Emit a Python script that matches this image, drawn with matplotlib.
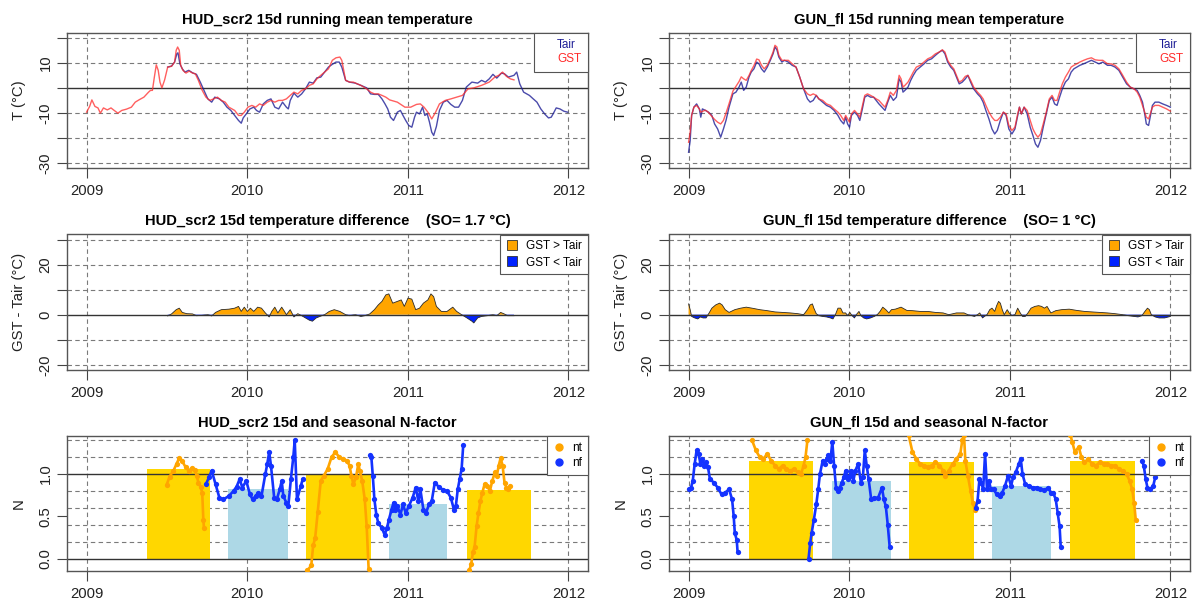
import numpy as np
import matplotlib.pyplot as plt
from matplotlib.lines import Line2D

plt.rcParams['font.family'] = ['Liberation Sans', 'DejaVu Sans']

# ---------------- HUD_scr2: 15d running means (decimal years, degC) ----------------
hud_tair_t = [2009.505, 2009.529, 2009.548, 2009.562, 2009.569, 2009.581, 2009.596, 2009.612, 2009.636, 2009.660,
              2009.684, 2009.708, 2009.731, 2009.755, 2009.779, 2009.798, 2009.827, 2009.851, 2009.874, 2009.898,
              2009.922, 2009.946, 2009.963, 2009.975, 2009.994, 2010.017, 2010.041, 2010.058, 2010.077, 2010.100,
              2010.125, 2010.148, 2010.172, 2010.196, 2010.220, 2010.244, 2010.256, 2010.268, 2010.291, 2010.315,
              2010.339, 2010.363, 2010.387, 2010.411, 2010.434, 2010.458, 2010.482, 2010.506, 2010.530, 2010.553,
              2010.573, 2010.589, 2010.613, 2010.637, 2010.673, 2010.708, 2010.744, 2010.768, 2010.792, 2010.816,
              2010.839, 2010.858, 2010.875, 2010.892, 2010.911, 2010.923, 2010.935, 2010.954, 2010.970, 2010.987,
              2011.006, 2011.025, 2011.042, 2011.054, 2011.073, 2011.092, 2011.106, 2011.121, 2011.135, 2011.149,
              2011.161, 2011.178, 2011.197, 2011.221, 2011.244, 2011.268, 2011.292, 2011.316, 2011.340, 2011.364,
              2011.399, 2011.435, 2011.459, 2011.483, 2011.507, 2011.530, 2011.554, 2011.583, 2011.602, 2011.626,
              2011.661, 2011.678, 2011.697, 2011.721, 2011.757, 2011.781, 2011.804, 2011.828, 2011.852, 2011.876,
              2011.893, 2011.907, 2011.924, 2011.947, 2011.971, 2011.995]
hud_tair = [8.4, 8.8, 10.4, 13.7, 14.1, 9.7, 7.7, 6.4, 7.1, 6.1,
            5.5, 2.4, -0.9, -4.3, -5.6, -3.6, -4.3, -5.6, -7.6, -8.9,
            -10.9, -12.9, -14.0, -11.9, -10.3, -8.3, -7.6, -8.9, -9.6, -6.3,
            -4.9, -4.3, -7.6, -8.3, -5.6, -7.6, -8.3, -4.9, -2.0, -3.6,
            -2.3, -0.3, 2.4, 2.0, 4.1, 4.4, 6.4, 8.4, 9.5, 10.4,
            10.4, 8.4, 3.1, 2.4, 2.0, 1.1, 0.1, -2.3, -2.5, -2.5,
            -4.3, -6.3, -8.3, -11.6, -12.9, -11.3, -9.6, -8.9, -10.9, -12.9,
            -14.9, -15.6, -11.6, -9.6, -10.3, -7.6, -10.9, -10.3, -13.6, -17.6,
            -18.9, -15.3, -8.9, -5.6, -4.9, -6.5, -7.6, -7.6, -4.9, 0.4,
            2.4, 2.0, 3.1, 2.4, 3.7, 5.5, 4.0, 6.0, 5.7, 4.4,
            5.1, 6.4, 1.7, -1.6, -2.9, -4.3, -5.6, -8.3, -10.3, -11.9,
            -11.6, -10.0, -7.9, -8.3, -9.2, -9.6]

hud_gst_t = [2009.000, 2009.019, 2009.033, 2009.052, 2009.071, 2009.086, 2009.105, 2009.129, 2009.152, 2009.172,
             2009.195, 2009.219, 2009.248, 2009.279, 2009.303, 2009.326, 2009.357, 2009.386, 2009.398, 2009.410,
             2009.422, 2009.434, 2009.446, 2009.457, 2009.469, 2009.486, 2009.505, 2009.529, 2009.548, 2009.558,
             2009.567, 2009.577, 2009.586, 2009.600, 2009.619, 2009.639, 2009.660, 2009.677, 2009.696, 2009.720,
             2009.743, 2009.767, 2009.791, 2009.815, 2009.839, 2009.863, 2009.886, 2009.922, 2009.946, 2009.963,
             2009.982, 2010.005, 2010.029, 2010.053, 2010.077, 2010.100, 2010.125, 2010.148, 2010.172, 2010.196,
             2010.220, 2010.244, 2010.268, 2010.291, 2010.315, 2010.339, 2010.363, 2010.387, 2010.411, 2010.434,
             2010.458, 2010.482, 2010.506, 2010.530, 2010.553, 2010.577, 2010.589, 2010.613, 2010.637, 2010.661,
             2010.685, 2010.708, 2010.744, 2010.768, 2010.792, 2010.816, 2010.839, 2010.863, 2010.887, 2010.935,
             2010.982, 2011.018, 2011.054, 2011.078, 2011.101, 2011.125, 2011.149, 2011.173, 2011.197, 2011.233,
             2011.268, 2011.304, 2011.340, 2011.375, 2011.411, 2011.459, 2011.507, 2011.542, 2011.566, 2011.590,
             2011.614, 2011.638, 2011.661]
hud_gst = [-9.6, -7.3, -4.7, -7.3, -7.9, -10.0, -7.9, -8.7, -7.9, -8.9,
           -10.0, -8.9, -8.4, -7.6, -5.6, -4.7, -3.6, -1.6, -0.9, -0.9,
           4.4, 9.3, 7.1, 2.4, 0.1, 3.3, 8.4, 8.7, 10.4, 15.1,
           16.4, 15.1, 9.1, 7.1, 6.0, 6.8, 6.0, 5.7, 3.1, -0.9,
           -3.6, -4.9, -4.3, -3.6, -4.9, -5.6, -7.6, -8.9, -10.9, -10.9,
           -9.6, -7.6, -6.9, -7.6, -6.3, -6.9, -5.6, -4.9, -5.6, -4.9,
           -4.9, -4.3, -2.9, -1.6, -2.3, -0.9, -0.3, 1.1, 1.7, 3.7,
           5.1, 6.4, 7.7, 11.1, 12.1, 12.4, 11.1, 3.1, 2.4, 2.4,
           1.7, 1.1, -0.3, -1.6, -2.3, -2.3, -2.9, -3.6, -4.7, -5.6,
           -7.6, -7.6, -6.5, -6.3, -7.6, -9.6, -12.3, -9.6, -6.3, -4.9,
           -4.3, -3.6, -2.9, -0.3, 0.1, 1.1, 2.4, 4.4, 5.1, 6.4,
           4.7, 3.7, 3.3]

# GST - Tair
hud_diff_t = [2009.505, 2009.529, 2009.558, 2009.577, 2009.596, 2009.624, 2009.660, 2009.684, 2009.715, 2009.755,
              2009.779, 2009.803, 2009.839, 2009.886, 2009.922, 2009.946, 2009.963, 2009.982, 2010.001, 2010.020,
              2010.041, 2010.065, 2010.089, 2010.113, 2010.137, 2010.153, 2010.172, 2010.191, 2010.215, 2010.232,
              2010.244, 2010.268, 2010.291, 2010.315, 2010.339, 2010.363, 2010.387, 2010.406, 2010.430, 2010.453,
              2010.482, 2010.511, 2010.542, 2010.577, 2010.613, 2010.637, 2010.673, 2010.708, 2010.732, 2010.763,
              2010.792, 2010.816, 2010.839, 2010.863, 2010.882, 2010.906, 2010.935, 2010.959, 2010.978, 2011.001,
              2011.025, 2011.049, 2011.073, 2011.097, 2011.125, 2011.144, 2011.161, 2011.178, 2011.209, 2011.244,
              2011.280, 2011.304, 2011.335, 2011.368, 2011.399, 2011.411, 2011.435, 2011.459, 2011.495, 2011.530,
              2011.554, 2011.578, 2011.597, 2011.621, 2011.661]
hud_diff = [-0.5, 0.3, 2.0, 2.6, 0.9, 0.4, 0.3, -0.4, -0.3, 0.0,
            -0.5, 0.9, 2.0, 2.2, 2.6, 3.3, 1.3, 3.0, 1.3, 2.6,
            1.3, 3.0, 2.6, 0.7, -0.9, 1.3, 3.0, 0.7, 3.0, 1.3,
            0.0, 2.0, -0.9, 0.4, -0.4, -1.3, -2.2, -2.6, -1.3, -0.7,
            0.0, 1.3, 2.0, 1.3, 0.0, -0.4, 0.0, -0.7, -0.4, 0.3,
            2.0, 3.9, 5.3, 7.9, 8.3, 4.6, 5.3, 5.9, 3.3, 6.6,
            6.2, 2.0, 2.6, 4.6, 5.9, 8.3, 7.2, 3.3, 1.3, 1.3,
            3.0, 1.3, 0.0, -1.3, -2.6, -3.3, -1.3, -0.7, -0.4, 0.0,
            -0.4, 0.9, 0.4, -0.4, -0.4]

# N-factor: daily values per season, and seasonal bars
hud_nt_t = [[2009.498, 2009.517, 2009.541, 2009.560, 2009.577, 2009.596, 2009.617, 2009.636, 2009.655, 2009.672,
             2009.686, 2009.696, 2009.710, 2009.720, 2009.727, 2009.731],
            [2010.375, 2010.399, 2010.411, 2010.423, 2010.439, 2010.458, 2010.477, 2010.501, 2010.525, 2010.549,
             2010.573, 2010.596, 2010.620, 2010.637, 2010.649, 2010.661, 2010.677, 2010.692, 2010.701, 2010.716,
             2010.732, 2010.744, 2010.756],
            [2011.383, 2011.395, 2011.406, 2011.416, 2011.428, 2011.440, 2011.452, 2011.464, 2011.478, 2011.495,
             2011.511, 2011.526, 2011.542, 2011.554, 2011.566, 2011.578, 2011.590, 2011.602, 2011.614, 2011.626,
             2011.638]]
hud_nt = [[0.87, 0.97, 1.04, 1.12, 1.19, 1.15, 1.08, 1.04, 1.07, 1.05, 0.98, 0.90, 0.85, 0.78, 0.46, 0.36],
          [-0.14, -0.08, 0.16, 0.24, 0.55, 0.92, 0.98, 1.06, 1.20, 1.26, 1.20, 1.18, 1.16, 1.10, 0.98, 0.88,
           0.96, 1.12, 1.04, 0.92, 0.70, 0.38, -0.12],
          [-0.14, -0.06, 0.08, 0.14, 0.38, 0.54, 0.68, 0.78, 0.88, 0.86, 0.80, 0.92, 1.02, 0.98, 1.10, 1.19,
           1.10, 0.90, 0.84, 0.82, 0.86]]
hud_nf_t = [[2009.743, 2009.762, 2009.779, 2009.803, 2009.827, 2009.851, 2009.886, 2009.915, 2009.934, 2009.953,
             2009.970, 2009.994, 2010.017, 2010.034, 2010.053, 2010.070, 2010.089, 2010.113, 2010.125, 2010.137,
             2010.148, 2010.168, 2010.184, 2010.203, 2010.215, 2010.225, 2010.244, 2010.256, 2010.272, 2010.287,
             2010.296, 2010.310, 2010.334, 2010.346],
            [2010.763, 2010.773, 2010.782, 2010.792, 2010.804, 2010.816, 2010.839, 2010.856, 2010.870, 2010.882,
             2010.899, 2010.911, 2010.923, 2010.935, 2010.954, 2010.970, 2010.987, 2011.006, 2011.030, 2011.049,
             2011.066, 2011.078, 2011.097, 2011.113, 2011.132, 2011.149, 2011.168, 2011.192, 2011.221, 2011.244,
             2011.268, 2011.287, 2011.299, 2011.311, 2011.323, 2011.335, 2011.345]]
hud_nf = [[0.88, 0.96, 1.04, 0.88, 0.72, 0.70, 0.74, 0.80, 0.85, 0.94, 0.84, 0.92, 0.76, 0.70, 0.74, 0.78,
           0.74, 1.00, 1.12, 1.26, 1.10, 0.72, 0.70, 0.82, 0.92, 0.74, 0.66, 0.62, 0.94, 1.20, 1.40, 0.70,
           0.86, 0.94],
          [1.22, 1.20, 0.98, 0.70, 0.52, 0.42, 0.36, 0.28, 0.36, 0.46, 0.58, 0.66, 0.58, 0.62, 0.52, 0.64,
           0.54, 0.62, 0.72, 0.84, 0.68, 0.82, 0.58, 0.54, 0.64, 0.68, 0.90, 0.85, 0.81, 0.80, 0.72, 0.58,
           0.62, 0.82, 0.94, 1.06, 1.34]]
hud_season_start = [2009.374, 2009.882, 2010.368, 2010.880, 2011.368]
hud_season_end = [2009.770, 2010.256, 2010.768, 2011.247, 2011.766]
hud_season_n = [1.06, 0.82, 1.00, 0.64, 0.81]

# ---------------- GUN_fl ----------------
gun_t = [2009.000, 2009.010, 2009.019, 2009.033, 2009.050, 2009.067, 2009.076, 2009.086, 2009.105, 2009.124,
         2009.145, 2009.162, 2009.181, 2009.200, 2009.217, 2009.233, 2009.252, 2009.276, 2009.295, 2009.314,
         2009.328, 2009.343, 2009.359, 2009.376, 2009.390, 2009.407, 2009.424, 2009.438, 2009.454, 2009.471,
         2009.490, 2009.509, 2009.526, 2009.538, 2009.550, 2009.562, 2009.581, 2009.597, 2009.621, 2009.645,
         2009.669, 2009.692, 2009.716, 2009.740, 2009.757, 2009.776, 2009.795, 2009.811, 2009.835, 2009.859,
         2009.883, 2009.906, 2009.930, 2009.947, 2009.966, 2009.978, 2009.990, 2010.002, 2010.014, 2010.033,
         2010.052, 2010.066, 2010.080, 2010.097, 2010.114, 2010.133, 2010.152, 2010.168, 2010.185, 2010.204,
         2010.223, 2010.240, 2010.256, 2010.275, 2010.294, 2010.311, 2010.323, 2010.335, 2010.347, 2010.366,
         2010.383, 2010.399, 2010.418, 2010.442, 2010.466, 2010.489, 2010.513, 2010.537, 2010.561, 2010.580,
         2010.596, 2010.613, 2010.632, 2010.651, 2010.668, 2010.685, 2010.704, 2010.723, 2010.739, 2010.756,
         2010.775, 2010.799, 2010.818, 2010.834, 2010.851, 2010.870, 2010.889, 2010.906, 2010.922, 2010.941,
         2010.960, 2010.977, 2010.994, 2011.013, 2011.032, 2011.049, 2011.060, 2011.072, 2011.089, 2011.108,
         2011.127, 2011.144, 2011.160, 2011.175, 2011.191, 2011.208, 2011.227, 2011.246, 2011.263, 2011.279,
         2011.294, 2011.310, 2011.327, 2011.346, 2011.365, 2011.382, 2011.399, 2011.417, 2011.436, 2011.460,
         2011.484, 2011.508, 2011.531, 2011.555, 2011.579, 2011.608, 2011.631, 2011.655, 2011.679, 2011.703,
         2011.727, 2011.750, 2011.774, 2011.793, 2011.809, 2011.826, 2011.840, 2011.850, 2011.864, 2011.874,
         2011.888, 2011.904, 2011.928, 2011.952, 2011.976, 2012.000]
gun_tair = [-25.6, -20.9, -10.9, -7.6, -6.3, -8.3, -11.6, -8.3, -8.9, -9.6,
            -10.9, -14.3, -16.3, -19.6, -16.3, -12.9, -7.6, -2.3, -1.6, 0.4,
            2.4, -0.9, 0.4, 4.4, 6.4, 7.7, 10.4, 9.7, 7.7, 6.4,
            8.4, 11.1, 13.7, 16.4, 15.3, 12.4, 10.4, 11.1, 10.4, 9.1,
            8.4, 4.4, -0.3, -4.3, -5.6, -4.9, -2.9, -4.3, -5.6, -6.9,
            -7.6, -8.9, -10.9, -12.9, -14.3, -11.6, -14.3, -15.6, -10.9, -9.6,
            -10.9, -12.9, -8.9, -3.6, -2.9, -3.6, -3.6, -4.9, -6.3, -7.6,
            -8.9, -5.6, -2.9, -4.9, -3.6, 3.7, 2.4, -1.6, -0.9, 0.4,
            3.1, 5.1, 7.1, 8.4, 9.7, 11.1, 11.7, 13.1, 14.4, 15.1,
            13.7, 10.4, 8.4, 7.1, 4.4, 1.7, 2.4, 3.7, 5.1, 2.4,
            -0.3, -2.3, -3.6, -5.6, -8.9, -12.3, -16.3, -18.3, -16.9, -12.9,
            -9.6, -10.9, -16.3, -18.3, -16.3, -10.9, -7.6, -10.3, -7.6, -10.3,
            -15.6, -18.9, -22.3, -23.6, -20.9, -15.6, -10.3, -4.9, -3.6, -6.3,
            -6.9, -3.6, -0.3, 2.4, 3.7, 6.4, 7.7, 8.4, 9.1, 9.7,
            10.4, 11.1, 10.4, 9.7, 10.4, 9.1, 9.1, 8.4, 7.1, 4.4,
            1.7, 0.4, -0.3, -0.9, -2.9, -5.6, -10.3, -14.3, -14.9, -11.6,
            -6.9, -5.6, -5.6, -6.3, -6.9, -7.6]
gun_gst = [-21.6, -17.6, -10.9, -7.6, -6.9, -8.3, -9.6, -9.3, -8.8, -9.7,
           -11.3, -12.5, -13.6, -14.3, -12.9, -10.0, -6.2, -1.2, 0.7, 2.6,
           4.5, 3.7, 3.1, 5.0, 7.0, 9.0, 11.6, 11.3, 9.1, 7.7,
           9.1, 11.7, 14.4, 17.1, 16.4, 13.1, 11.1, 11.1, 11.1, 9.7,
           8.4, 4.4, -0.3, -2.3, -2.9, -2.3, -2.9, -4.3, -4.9, -6.3,
           -6.9, -8.3, -9.6, -10.9, -12.9, -10.9, -12.3, -13.6, -10.3, -8.9,
           -10.3, -11.6, -7.6, -2.9, -2.3, -2.9, -3.6, -4.3, -4.9, -6.3,
           -7.6, -4.9, -1.6, -2.9, -0.9, 5.1, 3.7, 0.4, 1.1, 2.4,
           4.4, 6.4, 8.4, 9.1, 10.4, 11.7, 12.4, 13.7, 14.4, 15.3,
           14.4, 11.1, 9.1, 7.7, 5.1, 2.4, 3.1, 4.7, 5.1, 3.1,
           0.4, -1.6, -2.9, -4.3, -6.9, -9.6, -11.6, -12.9, -12.9, -11.6,
           -9.6, -10.3, -14.9, -16.9, -15.6, -10.3, -7.6, -10.3, -7.6, -8.9,
           -12.9, -16.3, -18.3, -19.6, -18.3, -14.3, -9.6, -4.3, -2.9, -4.9,
           -4.9, -1.6, 1.7, 4.4, 6.4, 8.4, 9.1, 9.7, 10.4, 11.1,
           11.7, 12.1, 11.3, 11.1, 11.1, 9.7, 9.7, 9.1, 7.7, 5.1,
           2.4, 0.4, -0.3, -1.6, -3.6, -6.9, -9.6, -11.6, -12.3, -10.3,
           -7.6, -6.9, -6.9, -7.6, -8.3, -9.2]

gun_diff_t = [2009.000, 2009.010, 2009.019, 2009.038, 2009.057, 2009.074, 2009.090, 2009.109, 2009.128, 2009.145,
              2009.169, 2009.193, 2009.209, 2009.228, 2009.252, 2009.288, 2009.324, 2009.359, 2009.395, 2009.443,
              2009.490, 2009.538, 2009.585, 2009.633, 2009.680, 2009.716, 2009.740, 2009.757, 2009.771, 2009.780,
              2009.795, 2009.811, 2009.835, 2009.859, 2009.883, 2009.899, 2009.914, 2009.930, 2009.947, 2009.961,
              2009.978, 2009.990, 2010.004, 2010.018, 2010.033, 2010.044, 2010.061, 2010.073, 2010.090, 2010.109,
              2010.133, 2010.156, 2010.175, 2010.192, 2010.209, 2010.228, 2010.247, 2010.263, 2010.287, 2010.323,
              2010.359, 2010.394, 2010.442, 2010.489, 2010.537, 2010.585, 2010.620, 2010.668, 2010.715, 2010.739,
              2010.763, 2010.780, 2010.799, 2010.813, 2010.830, 2010.842, 2010.858, 2010.875, 2010.889, 2010.906,
              2010.918, 2010.930, 2010.941, 2010.953, 2010.965, 2010.984, 2010.996, 2011.013, 2011.032, 2011.049,
              2011.065, 2011.079, 2011.096, 2011.113, 2011.132, 2011.156, 2011.179, 2011.198, 2011.215, 2011.232,
              2011.256, 2011.286, 2011.322, 2011.370, 2011.417, 2011.465, 2011.512, 2011.560, 2011.608, 2011.655,
              2011.703, 2011.739, 2011.774, 2011.798, 2011.822, 2011.841, 2011.857, 2011.869, 2011.881, 2011.905,
              2011.929, 2011.964, 2012.000]
gun_diff = [4.3, 2.0, -0.7, -1.3, -1.7, -0.9, -1.3, -1.3, 0.7, 2.6,
            3.9, 4.6, 3.9, 2.0, 0.9, 2.0, 2.6, 3.0, 2.6, 2.0,
            1.6, 1.1, 0.9, 0.7, 0.4, 0.0, 2.0, 3.9, 4.3, 2.6,
            0.4, -0.4, -0.7, -0.9, -1.3, -1.7, 0.0, 2.6, 2.6, 0.7,
            0.7, -0.4, 0.9, -0.4, -1.3, 0.0, 1.3, -0.4, -1.3, -1.7,
            -1.3, -0.7, 0.0, 1.3, 3.0, 2.0, 0.7, 2.0, 2.2, 3.0,
            1.7, 1.6, 1.3, 1.3, 0.9, 0.7, 0.0, 0.7, 0.7, 0.0,
            -0.4, -0.7, 0.0, 0.7, -1.3, -0.7, 0.0, 2.0, 2.6, 1.3,
            3.6, 5.3, 4.6, 2.0, 0.0, 2.0, 0.7, -0.4, 0.0, 2.6,
            0.7, -0.7, -0.7, 0.7, 2.6, 3.3, 3.6, 3.3, 2.6, 3.3,
            0.7, 1.6, 2.0, 2.2, 1.7, 1.3, 1.1, 0.9, 0.7, 0.4,
            0.0, -0.4, -0.7, -0.9, -0.4, 1.3, 2.6, 2.0, 0.0, -0.9,
            -1.3, -1.3, -0.7]

gun_nt_t = [[2009.395, 2009.419, 2009.443, 2009.466, 2009.490, 2009.514, 2009.538, 2009.562, 2009.585, 2009.609,
             2009.633, 2009.657, 2009.680, 2009.700, 2009.716, 2009.728, 2009.740],
            [2010.370, 2010.394, 2010.418, 2010.442, 2010.466, 2010.489, 2010.513, 2010.537, 2010.561, 2010.585,
             2010.596, 2010.620, 2010.644, 2010.668, 2010.692, 2010.704, 2010.715, 2010.723, 2010.739, 2010.756,
             2010.770, 2010.782],
            [2011.377, 2011.389, 2011.405, 2011.429, 2011.446, 2011.465, 2011.489, 2011.512, 2011.536, 2011.560,
             2011.584, 2011.608, 2011.631, 2011.655, 2011.679, 2011.703, 2011.727, 2011.746, 2011.762, 2011.774,
             2011.784]]
gun_nt = [[1.40, 1.28, 1.20, 1.18, 1.24, 1.16, 1.10, 1.06, 1.10, 1.06, 1.04, 1.06, 1.02, 1.00, 1.10, 1.20, 1.40],
          [1.46, 1.26, 1.18, 1.12, 1.10, 1.08, 1.10, 1.14, 1.10, 1.04, 0.98, 1.04, 1.12, 1.18, 1.24, 1.40,
           1.46, 1.16, 0.98, 0.80, 0.66, 0.58],
          [1.46, 1.38, 1.26, 1.32, 1.20, 1.14, 1.18, 1.12, 1.10, 1.14, 1.12, 1.12, 1.10, 1.10, 1.06, 1.04,
           1.00, 0.92, 0.82, 0.66, 0.46]]
gun_nf_t = [[2009.000, 2009.014, 2009.026, 2009.038, 2009.050, 2009.062, 2009.074, 2009.086, 2009.098, 2009.109,
             2009.121, 2009.133, 2009.157, 2009.181, 2009.205, 2009.228, 2009.252, 2009.271, 2009.281, 2009.288,
             2009.300, 2009.305],
            [2009.747, 2009.757, 2009.766, 2009.780, 2009.795, 2009.807, 2009.818, 2009.835, 2009.847, 2009.859,
             2009.871, 2009.883, 2009.895, 2009.906, 2009.918, 2009.930, 2009.942, 2009.954, 2009.966, 2009.978,
             2009.990, 2010.002, 2010.014, 2010.026, 2010.038, 2010.056, 2010.073, 2010.085, 2010.097, 2010.109,
             2010.121, 2010.137, 2010.156, 2010.180, 2010.204, 2010.216, 2010.228, 2010.240, 2010.252],
            [2010.787, 2010.799, 2010.811, 2010.823, 2010.834, 2010.846, 2010.858, 2010.870, 2010.882, 2010.899,
             2010.918, 2010.937, 2010.953, 2010.970, 2010.989, 2011.008, 2011.020, 2011.037, 2011.056, 2011.068,
             2011.079, 2011.096, 2011.120, 2011.144, 2011.167, 2011.191, 2011.215, 2011.239, 2011.256, 2011.270,
             2011.286, 2011.298, 2011.310, 2011.317],
            [2011.822, 2011.834, 2011.846, 2011.857, 2011.874, 2011.893, 2011.905]]
gun_nf = [[0.82, 0.83, 0.92, 1.12, 1.28, 1.24, 1.12, 1.18, 1.10, 1.14, 1.08, 0.94, 0.90, 0.84, 0.76, 0.78,
           0.82, 0.70, 0.50, 0.30, 0.22, 0.08],
          [0.00, 0.18, 0.30, 0.46, 0.64, 0.82, 1.00, 1.16, 1.12, 1.18, 1.22, 1.16, 1.38, 1.10, 0.84, 0.80,
           0.84, 0.90, 0.96, 1.04, 0.94, 0.98, 1.04, 0.92, 1.04, 1.12, 0.90, 0.96, 1.28, 1.10, 0.94, 0.70,
           0.72, 0.72, 0.84, 0.70, 0.62, 0.40, 0.14],
          [0.60, 0.68, 0.94, 0.90, 0.82, 1.24, 0.82, 0.92, 0.82, 0.82, 0.76, 0.74, 0.78, 0.86, 0.98, 0.86,
           0.96, 1.02, 1.12, 1.18, 1.00, 0.88, 0.86, 0.84, 0.84, 0.82, 0.81, 0.84, 0.78, 0.78, 0.70, 0.54,
           0.38, 0.14],
          [1.16, 1.10, 0.94, 0.84, 0.82, 0.86, 0.96]]
gun_season_start = [2009.376, 2009.890, 2010.375, 2010.889, 2011.377]
gun_season_end = [2009.776, 2010.263, 2010.775, 2011.256, 2011.779]
gun_season_n = [1.16, 0.92, 1.14, 0.86, 1.16]

season_kind = ['nt', 'nf', 'nt', 'nf', 'nt']
years = [2009, 2010, 2011, 2012]

C_TAIR = '#1e1e96'
C_GST = '#ff2a2a'
C_ORANGE = '#FFA500'
C_BLUE = '#0022FF'
C_NF = '#1433FF'
C_GOLD = '#FFD700'
C_LIGHTBLUE = '#ADD8E6'
GRID = dict(color='#7a7a7a', lw=0.8, ls=(0, (4, 3)), zorder=0.5)

W, H = 1198.0, 608.0
fig = plt.figure(figsize=(W / 100, H / 100), dpi=100)


def make_axes(row, col):
    left = 67.3 + 602 * col
    top = 33 + 201.5 * row
    return fig.add_axes([left / W, 1 - (top + 135.3) / H, 520.4 / W, 135.3 / H])


def style(ax, row, col, ylim, grid, solid, yticks, ylabels, ylabel, title):
    ax.set_xlim(2008.88, 2012.12)
    ax.set_ylim(*ylim)
    for y in grid:
        ax.axhline(y, **GRID)
    for x in years:
        ax.axvline(x, **GRID)
    for y in solid:
        ax.axhline(y, color='#333333', lw=1.0, zorder=2.5)
    ax.set_xticks(years)
    ax.set_xticklabels([str(y) for y in years])
    ax.set_yticks(yticks)
    ax.set_yticklabels(ylabels, rotation=90, va='center')
    ax.tick_params(direction='out', length=7, width=0.8, color='#444444',
                   labelsize=10.7, labelcolor='#222222')
    ax.tick_params(axis='x', pad=4.5)
    ax.tick_params(axis='y', pad=3.5)
    for s in ax.spines.values():
        s.set_color('#555555')
        s.set_linewidth(1.0)
    ax.set_title(title, fontsize=10.6, fontweight='bold', pad=6.5)
    fig.text((19 + 602 * col) / W, 1 - (33 + 201.5 * row + 67.65) / H, ylabel,
             rotation=90, ha='center', va='center', fontsize=10.7, color='#222222')


def boxed_legend(ax, handles, labels, **kw):
    leg = ax.legend(handles, labels, loc='upper right', borderaxespad=0, fancybox=False,
                    edgecolor='#555555', framealpha=1, fontsize=8.5, **kw)
    leg.get_frame().set_linewidth(0.8)
    leg.set_zorder(5)
    return leg


sites = [
    ('HUD_scr2', hud_tair_t, hud_tair, hud_gst_t, hud_gst, hud_diff_t, hud_diff, '1.7',
     hud_nt_t, hud_nt, hud_nf_t, hud_nf, hud_season_start, hud_season_end, hud_season_n),
    ('GUN_fl', gun_t, gun_tair, gun_t, gun_gst, gun_diff_t, gun_diff, '1',
     gun_nt_t, gun_nt, gun_nf_t, gun_nf, gun_season_start, gun_season_end, gun_season_n),
]

for col, (name, ta_t, ta, gs_t, gs, d_t, d, so, nt_t, nt, nf_t, nf, s0, s1, sn) in enumerate(sites):
    # running mean temperatures
    ax = make_axes(0, col)
    style(ax, 0, col, (-32, 22), [-30, -20, -10, 10, 20], [0],
          [-30, -20, -10, 0, 10, 20], ['-30', '', '-10', '', '10', ''],
          'T (°C)', f'{name} 15d running mean temperature')
    ax.plot(ta_t, ta, color=C_TAIR, lw=1.0, alpha=0.8, zorder=3)
    ax.plot(gs_t, gs, color=C_GST, lw=1.0, alpha=0.75, zorder=3.1)
    blank = [Line2D([], [], lw=0), Line2D([], [], lw=0)]
    boxed_legend(ax, blank, ['Tair', 'GST'], labelcolor=[C_TAIR, C_GST],
                 handlelength=0.6, handletextpad=0.8, borderpad=0.55, labelspacing=0.15)

    # temperature difference
    ax = make_axes(1, col)
    style(ax, 1, col, (-22, 32), [-20, -10, 10, 20, 30], [0],
          [-20, -10, 0, 10, 20, 30], ['-20', '', '0', '', '20', ''],
          'GST - Tair (°C)', f'{name} 15d temperature difference    (SO= {so} °C)')
    dt = np.array(d_t)
    dv = np.array(d)
    ax.fill_between(dt, dv, 0, where=dv >= 0, interpolate=True, color=C_ORANGE, lw=0, zorder=1)
    ax.fill_between(dt, dv, 0, where=dv <= 0, interpolate=True, color=C_BLUE, lw=0, zorder=1)
    ax.plot(dt, dv, color='#2a2a2a', lw=0.6, zorder=2)
    sq = [Line2D([], [], ls='', marker='s', ms=7, mfc=C_ORANGE, mec='#333333', mew=0.6),
          Line2D([], [], ls='', marker='s', ms=7, mfc=C_BLUE, mec='#333333', mew=0.6)]
    boxed_legend(ax, sq, ['GST > Tair', 'GST < Tair'], handlelength=1.0, handletextpad=0.7,
                 borderpad=0.5, labelspacing=0.35)

    # N-factor
    ax = make_axes(2, col)
    style(ax, 2, col, (-0.15, 1.45), [0.2, 0.4, 0.6, 0.8, 1.2, 1.4], [0, 1],
          [0, 0.5, 1.0], ['0.0', '0.5', '1.0'], 'N', f'{name} 15d and seasonal N-factor')
    for a, b, n, kind in zip(s0, s1, sn, season_kind):
        ax.bar(a, n, width=b - a, align='edge', color=C_GOLD if kind == 'nt' else C_LIGHTBLUE,
               lw=0, zorder=1)
    for tt, vv in zip(nt_t, nt):
        ax.plot(tt, vv, color=C_ORANGE, lw=1.9, marker='o', ms=3.8, mew=0,
                solid_capstyle='round', zorder=3)
    for tt, vv in zip(nf_t, nf):
        ax.plot(tt, vv, color=C_NF, lw=1.9, marker='o', ms=3.8, mew=0,
                solid_capstyle='round', zorder=3)
    dots = [Line2D([], [], ls='', marker='o', ms=5, mfc=C_ORANGE, mec=C_ORANGE),
            Line2D([], [], ls='', marker='o', ms=5, mfc=C_NF, mec=C_NF)]
    boxed_legend(ax, dots, ['nt', 'nf'], handlelength=1.0, handletextpad=0.6,
                 borderpad=0.5, labelspacing=0.3)

fig.savefig('out.png', dpi=100)
